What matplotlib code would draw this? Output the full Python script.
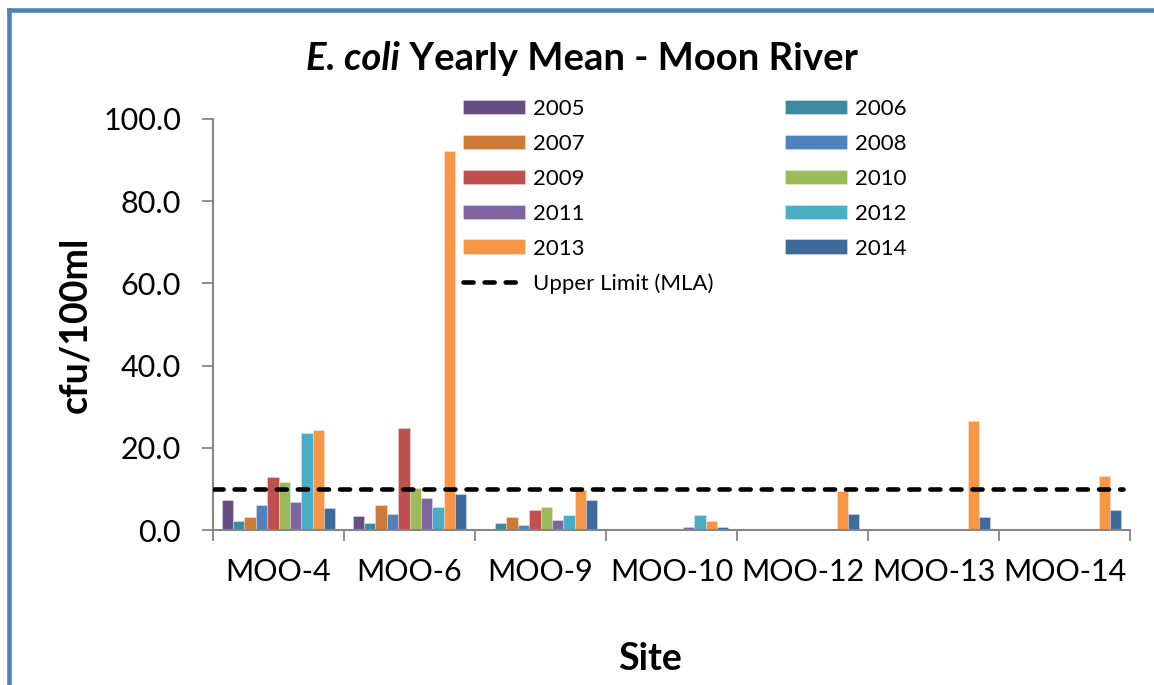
import numpy as np
import matplotlib
matplotlib.use("Agg")
import matplotlib.pyplot as plt
from matplotlib.lines import Line2D
from matplotlib.offsetbox import TextArea, HPacker, AnchoredOffsetbox

plt.rcParams['font.family'] = ['Lato', 'DejaVu Sans']

sites = ["MOO-4", "MOO-6", "MOO-9", "MOO-10", "MOO-12", "MOO-13", "MOO-14"]
years = ["2005", "2006", "2007", "2008", "2009", "2010", "2011", "2012", "2013", "2014"]

y2005 = [7.3, 3.5, 0.0, 0.0, 0.0, 0.0, 0.0]
y2006 = [2.3, 1.6, 1.6, 0.0, 0.0, 0.0, 0.0]
y2007 = [3.1, 6.1, 3.2, 0.0, 0.0, 0.0, 0.0]
y2008 = [6.2, 3.8, 1.3, 0.0, 0.0, 0.0, 0.0]
y2009 = [12.8, 24.7, 4.8, 0.0, 0.0, 0.0, 0.0]
y2010 = [11.6, 10.3, 5.7, 0.0, 0.0, 0.0, 0.0]
y2011 = [6.7, 7.9, 2.5, 0.8, 0.0, 0.0, 0.0]
y2012 = [23.6, 5.6, 3.7, 3.7, 0.0, 0.0, 0.0]
y2013 = [24.4, 92.2, 9.7, 2.2, 9.6, 26.6, 13.1]
y2014 = [5.4, 8.8, 7.4, 0.8, 3.8, 3.2, 4.8]
series = [y2005, y2006, y2007, y2008, y2009, y2010, y2011, y2012, y2013, y2014]

mla_limit = 10.0
mla_label = "Upper Limit (MLA)"

colors = ["#694E86", "#3C8AA2", "#CC7A37", "#4F81BD", "#C0504D",
          "#9BBB59", "#8064A2", "#4BACC6", "#F79646", "#416A9C"]

W, H = 1154, 685
fig = plt.figure(figsize=(W / 100, H / 100), dpi=100)
ax = fig.add_axes([213 / W, 1 - 530 / H, (1130 - 213) / W, (530 - 119) / H])

x = np.arange(len(sites))
bw = 0.087
handles = []
for i, (yr, vals, c) in enumerate(zip(years, series, colors)):
    b = ax.bar(x + (i - 4.5) * bw, vals, width=bw, color=c,
               edgecolor=(1, 1, 1, 0.35), linewidth=0.6, label=yr, zorder=2)
    handles.append(b)

ln = ax.axhline(mla_limit, xmin=0.0, xmax=0.992, color="black", linewidth=3.3,
                dashes=(2.2, 2.4), dash_capstyle="round", zorder=3, label=mla_label)

ax.set_xlim(-0.5, len(sites) - 0.5)
ax.set_ylim(0, 100)
ax.set_yticks(np.arange(0, 101, 20))
ax.set_yticklabels([f"{v:.1f}" for v in np.arange(0, 101, 20)])

ax.set_xticks(np.arange(-0.5, len(sites), 1))
ax.set_xticklabels([])
ax.set_xticks(x, minor=True)
ax.set_xticklabels(sites, minor=True)

gray = "#868686"
for s in ["top", "right"]:
    ax.spines[s].set_visible(False)
for s in ["left", "bottom"]:
    ax.spines[s].set_color(gray)
    ax.spines[s].set_linewidth(1.5)
ax.tick_params(axis="y", which="major", length=8, width=1.3, color=gray,
               labelsize=22, pad=15, labelcolor="black")
ax.tick_params(axis="x", which="major", length=8, width=1.3, color=gray)
ax.tick_params(axis="x", which="minor", length=0, labelsize=22, pad=20)

ax.set_ylabel("cfu/100ml", fontsize=27, fontweight="bold", labelpad=8)
fig.text(650 / W, 1 - 659 / H, "Site", fontsize=27, fontweight="bold",
         ha="center", va="center")

# Title with italic part
t1 = TextArea("E. coli", textprops=dict(fontsize=27.5, fontweight="bold", fontstyle="italic"))
t2 = TextArea(" Yearly Mean - Moon River", textprops=dict(fontsize=27.5, fontweight="bold"))
pack = HPacker(children=[t1, t2], align="baseline", pad=0, sep=0)
ab = AnchoredOffsetbox(loc="center", child=pack, frameon=False,
                       bbox_to_anchor=(582 / W, 1 - 58 / H),
                       bbox_transform=fig.transFigure, borderpad=0, pad=0)
fig.add_artist(ab)

order = [0, 2, 4, 6, 8]
h_list = [handles[i] for i in order] + [ln] + [handles[i] for i in [1, 3, 5, 7, 9]]
l_list = [years[i] for i in order] + [mla_label] + [years[i] for i in [1, 3, 5, 7, 9]]
leg = fig.legend(h_list, l_list, ncol=2, loc="upper left",
                 bbox_to_anchor=(463 / W, 1 - 99 / H), bbox_transform=fig.transFigure,
                 frameon=False, fontsize=16, handlelength=2.8, handleheight=0.63,
                 handletextpad=0.35, labelspacing=0.67, columnspacing=3.2,
                 borderpad=0, borderaxespad=0)

# outer frame
fig.add_artist(Line2D([9 / W, 9 / W], [0, 1 - 9.5 / H], transform=fig.transFigure,
                      color="#4F81BD", linewidth=3.3, solid_capstyle="projecting"))
fig.add_artist(Line2D([9 / W, 1], [1 - 9.5 / H, 1 - 9.5 / H], transform=fig.transFigure,
                      color="#4F81BD", linewidth=3.3, solid_capstyle="projecting"))

fig.savefig("out.png", dpi=100)
